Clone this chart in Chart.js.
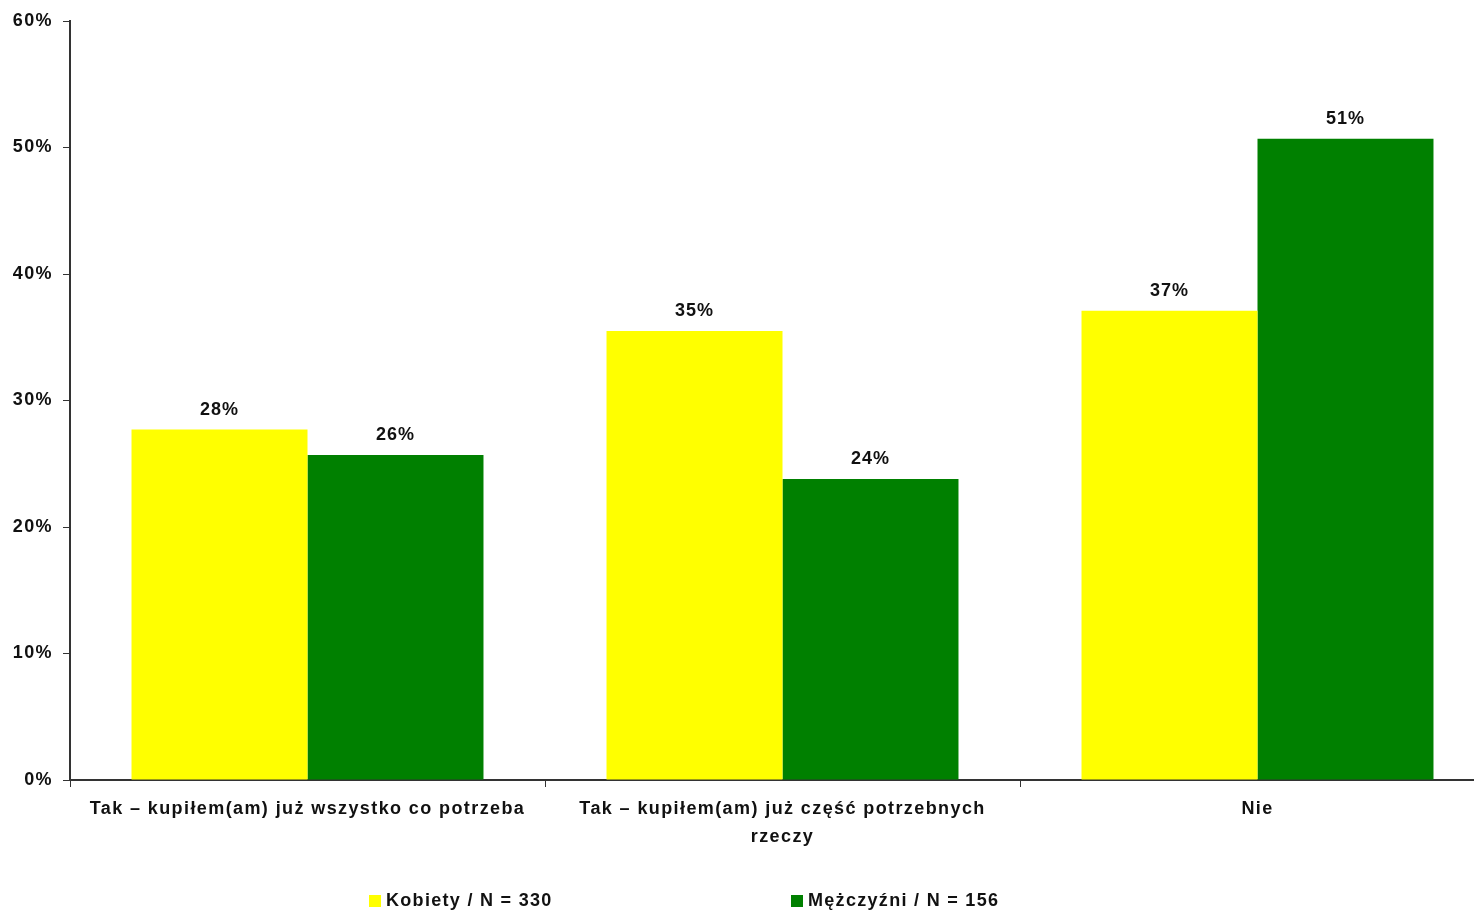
<!DOCTYPE html>
<html>
<head>
<meta charset="utf-8">
<script src="https://cdn.jsdelivr.net/npm/chart.js@4"></script>
<style>
  html, body { margin: 0; padding: 0; background: #fff; overflow: hidden; width: 1474px; height: 912px; }
  #wrap { position: absolute; left: 0; top: 0; width: 1496px; height: 912px; }
  .leg { position: absolute; top: 889px; font: bold 18px "Liberation Sans", Arial, sans-serif; color: #111; white-space: nowrap; line-height: 22px; letter-spacing: 1.3px; }
  .sw { display: inline-block; width: 12px; height: 12px; margin-right: 5px; vertical-align: -1px; }
</style>
</head>
<body>
<div id="wrap"><canvas id="c" width="1496" height="912"></canvas></div>
<div class="leg" style="left:369px"><span class="sw" style="background:#ffff00"></span>Kobiety / N = 330</div>
<div class="leg" style="left:791px"><span class="sw" style="background:#008000"></span>Mężczyźni / N = 156</div>
<script>
const categories = [
  "Tak – kupiłem(am) już wszystko co potrzeba",
  ["Tak – kupiłem(am) już część potrzebnych", "rzeczy"],
  "Nie"
];
const seriesNames = ["Kobiety / N = 330", "Mężczyźni / N = 156"];
const kobiety = [27.7, 35.5, 37.1];
const mezczyzni = [25.7, 23.8, 50.7];
const valueLabels = [["28%", "35%", "37%"], ["26%", "24%", "51%"]];
const yTicks = [0, 10, 20, 30, 40, 50, 60];

const FONT = "'Liberation Sans', Arial, sans-serif";

const spacingPlugin = {
  id: 'spacing',
  beforeDraw(chart) { chart.ctx.letterSpacing = '1.4px'; }
};

const valueLabelPlugin = {
  id: 'valueLabels',
  afterDatasetsDraw(chart) {
    const ctx = chart.ctx;
    ctx.save();
    ctx.letterSpacing = '1px';
    ctx.font = "bold 18px " + FONT;
    ctx.fillStyle = "#111";
    ctx.textAlign = "center";
    ctx.textBaseline = "bottom";
    chart.data.datasets.forEach((ds, di) => {
      chart.getDatasetMeta(di).data.forEach((bar, i) => {
        ctx.fillText(valueLabels[di][i], bar.x, bar.y - 11);
      });
    });
    ctx.restore();
  }
};

new Chart(document.getElementById('c'), {
  type: 'bar',
  data: {
    labels: categories,
    datasets: [
      { label: seriesNames[0], data: kobiety, backgroundColor: '#ffff00', borderWidth: 0 },
      { label: seriesNames[1], data: mezczyzni, backgroundColor: '#008000', borderWidth: 0 }
    ]
  },
  options: {
    responsive: false,
    animation: false,
    events: [],
    layout: { padding: { top: 21, right: 1, left: 0, bottom: 0 } },
    plugins: { legend: { display: false }, tooltip: { enabled: false } },
    datasets: { bar: { categoryPercentage: 0.741, barPercentage: 1.0 } },
    scales: {
      x: {
        offset: true,
        grid: { display: true, drawOnChartArea: false, drawTicks: true, tickLength: 7, color: '#333', lineWidth: 1, offset: true },
        border: { display: true, color: '#333', width: 2 },
        ticks: { color: '#111', font: { family: FONT, size: 18, weight: 'bold', lineHeight: 1.55 }, padding: 8, maxRotation: 0, autoSkip: false },
        afterFit(s) { s.height = 132; }
      },
      y: {
        min: 0, max: 60,
        afterBuildTicks(s) { s.ticks = yTicks.map(v => ({ value: v })); },
        grid: { display: true, drawOnChartArea: false, drawTicks: true, tickLength: 7, color: '#333', lineWidth: 1 },
        border: { display: true, color: '#333', width: 2 },
        ticks: { color: '#111', font: { family: FONT, size: 18, weight: 'bold' }, padding: 10, callback: v => v + '%' },
        afterFit(s) { s.width = 70; }
      }
    }
  },
  plugins: [spacingPlugin, valueLabelPlugin]
});
</script>
</body>
</html>
